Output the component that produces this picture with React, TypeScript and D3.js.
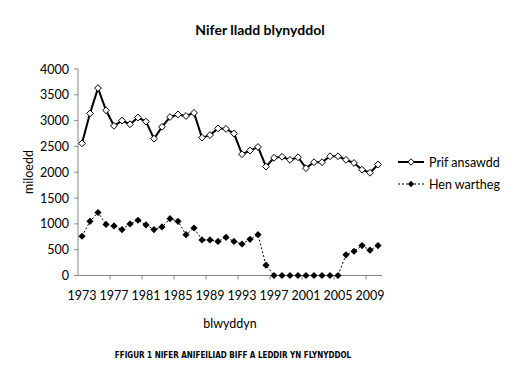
import React from "react";
import * as d3 from "d3";

const years: number[] = d3.range(1973, 2011);
const prifAnsawdd: number[] = [
  2560, 3140, 3630, 3200, 2900, 3000, 2930, 3060, 2980, 2650,
  2880, 3070, 3120, 3090, 3150, 2670, 2720, 2850, 2840, 2750,
  2350, 2420, 2490, 2110, 2280, 2300, 2240, 2290, 2080, 2195,
  2195, 2310, 2310, 2240, 2180, 2050, 1990, 2150,
];
const henWartheg: number[] = [
  760, 1050, 1220, 990, 960, 890, 1000, 1070, 980, 890,
  940, 1100, 1050, 790, 920, 690, 690, 660, 740, 660,
  610, 700, 790, 200, 0, 0, 0, 0, 0, 0,
  0, 0, 0, 400, 470, 580, 490, 580,
];
const yTicks: number[] = [0, 500, 1000, 1500, 2000, 2500, 3000, 3500, 4000];
const xTickLabels: number[] = [1973, 1977, 1981, 1985, 1989, 1993, 1997, 2001, 2005, 2009];
const seriesNames: string[] = ["Prif ansawdd", "Hen wartheg"];

const W = 519;
const H = 382;
const FONT = "Lato, 'Open Sans', sans-serif";

export default function App() {
  const left = 78, right = 382, top = 69, bottom = 275.5;
  const band = d3.scaleBand<number>().domain(years).range([left, right]);
  const x = (yr: number) => (band(yr) as number) + band.bandwidth() / 2;
  const y = d3.scaleLinear().domain([0, 4000]).range([bottom, top]);

  const linePrif = d3.line<number>().x((_, i) => x(years[i])).y((d) => y(d));
  const diamond = (cx: number, cy: number, r: number) =>
    `M${cx},${cy - r}L${cx + r},${cy}L${cx},${cy + r}L${cx - r},${cy}Z`;

  const xTickBoundaries = years.filter((_, i) => i % 4 === 0 && i > 0).map((yr) => band(yr) as number);

  return (
    <svg width={W} height={H} style={{ position: "absolute", left: 0, top: 0 }} fontFamily={FONT}>
      <rect width={W} height={H} fill="#fff" />
      <text x={260} y={35} textAnchor="middle" fontSize={14} fontWeight="bold">
        Nifer lladd blynyddol
      </text>

      {/* y axis */}
      <line x1={left} x2={left} y1={top} y2={bottom} stroke="#888" />
      {yTicks.map((t) => (
        <g key={t}>
          <line x1={left - 4} x2={left} y1={y(t)} y2={y(t)} stroke="#888" />
          <text x={left - 9} y={y(t) + 4.5} textAnchor="end" fontSize={12.5}>
            {t}
          </text>
        </g>
      ))}
      {/* x axis */}
      <line x1={left} x2={right} y1={bottom} y2={bottom} stroke="#888" />
      {xTickBoundaries.map((bx, i) => (
        <line key={i} x1={bx} x2={bx} y1={bottom} y2={bottom + 4} stroke="#888" />
      ))}
      {xTickLabels.map((yr) => (
        <text key={yr} x={x(yr)} y={bottom + 24} textAnchor="middle" fontSize={12.5}>
          {yr}
        </text>
      ))}
      <text x={230} y={328} textAnchor="middle" fontSize={12.5}>
        blwyddyn
      </text>
      <text transform={`translate(33,172) rotate(-90)`} textAnchor="middle" fontSize={12.5}>
        miloedd
      </text>

      {/* Hen wartheg */}
      <path d={linePrif(henWartheg) || ""} fill="none" stroke="#000" strokeWidth={1} strokeDasharray="2,2" />
      {henWartheg.map((v, i) => (
        <path key={i} d={diamond(x(years[i]), y(v), 3.6)} fill="#000" />
      ))}

      {/* Prif ansawdd */}
      <path d={linePrif(prifAnsawdd) || ""} fill="none" stroke="#000" strokeWidth={2} />
      {prifAnsawdd.map((v, i) => (
        <path key={i} d={diamond(x(years[i]), y(v), 3.4)} fill="#fff" stroke="#000" strokeWidth={1} />
      ))}

      {/* legend */}
      <g>
        <line x1={398} x2={424} y1={162} y2={162} stroke="#000" strokeWidth={2} />
        <path d={diamond(411, 162, 3.2)} fill="#fff" stroke="#000" strokeWidth={1} />
        <text x={429} y={166.5} fontSize={12.5}>{seriesNames[0]}</text>
        <line x1={398} x2={424} y1={184} y2={184} stroke="#000" strokeWidth={1} strokeDasharray="2,2" />
        <path d={diamond(411, 184, 3.2)} fill="#000" />
        <text x={429} y={188.5} fontSize={12.5}>{seriesNames[1]}</text>
      </g>

      <text x={233} y={358} textAnchor="middle" fontSize={8} fontWeight="bold" fontFamily="'Liberation Sans Narrow', 'DejaVu Sans Condensed', sans-serif">
        FFIGUR 1 NIFER ANIFEILIAD BIFF A LEDDIR YN FLYNYDDOL
      </text>
    </svg>
  );
}
